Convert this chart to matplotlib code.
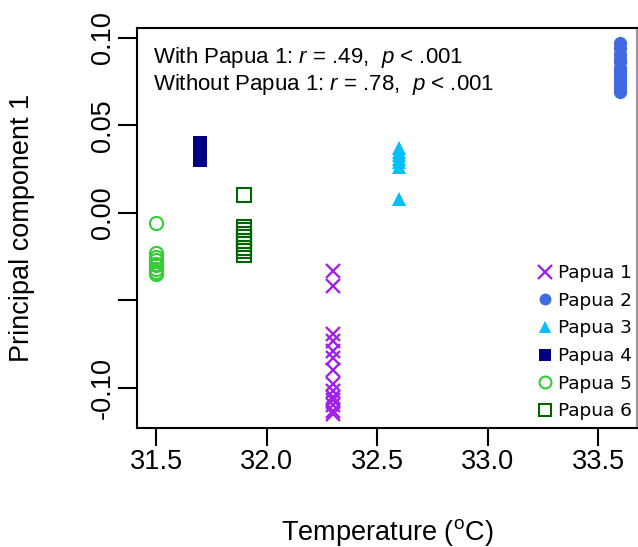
import numpy as np
import matplotlib
matplotlib.use('Agg')
import matplotlib.pyplot as plt
from matplotlib import rcParams

rcParams['font.family'] = 'Liberation Sans'
rcParams['mathtext.fontset'] = 'custom'
rcParams['mathtext.rm'] = 'Liberation Sans'
rcParams['mathtext.it'] = 'Liberation Sans:italic'

# temperature per group and PC1 values
temps = [32.3, 33.6, 32.6, 31.7, 31.5, 31.9]
labels = ['Papua 1', 'Papua 2', 'Papua 3', 'Papua 4', 'Papua 5', 'Papua 6']

pc_papua1 = [-0.033, -0.042, -0.069, -0.073, -0.079, -0.083, -0.090, -0.098,
             -0.102, -0.105, -0.107, -0.110, -0.113, -0.115]
pc_papua2 = [0.097, 0.094, 0.091, 0.088, 0.086, 0.083, 0.081, 0.079, 0.077,
             0.075, 0.073, 0.071, 0.069]
pc_papua3 = [0.037, 0.035, 0.033, 0.031, 0.029, 0.026, 0.008]
pc_papua4 = [0.040, 0.038, 0.036, 0.034, 0.032, 0.030]
pc_papua5 = [-0.006, -0.023, -0.025, -0.027, -0.029, -0.030, -0.032, -0.034, -0.035]
pc_papua6 = [0.010, -0.008, -0.010, -0.012, -0.014, -0.016, -0.018, -0.020,
             -0.022, -0.024]
pcs = [pc_papua1, pc_papua2, pc_papua3, pc_papua4, pc_papua5, pc_papua6]

colors = ['#A020F0', '#4169E1', '#00BFFF', '#000080', '#32CD32', '#006400']
markers = ['x', 'o', '^', 's', 'o', 's']
filled = [True, True, True, True, False, False]
msizes = [10.5, 9.5, 10, 9.5, 9.5, 9.5]

fig = plt.figure(figsize=(6.38, 5.47), dpi=100)
ax = fig.add_axes([137/638, 1-428/547, 500/638, 400/547])

for t, pc, lab, c, m, f, ms in zip(temps, pcs, labels, colors, markers, filled, msizes):
    xs = np.full(len(pc), t)
    if m == 'x':
        ax.plot(xs, pc, ls='none', marker=m, color=c, ms=ms, mew=1.7, label=lab)
    elif f:
        ax.plot(xs, pc, ls='none', marker=m, color=c, ms=ms, mew=0, label=lab)
    else:
        ax.plot(xs, pc, ls='none', marker=m, mfc='none', mec=c, ms=ms, mew=1.5, label=lab)

ax.set_xlim(31.414, 33.676)
ax.set_ylim(-0.1229, 0.1057)
ax.set_xticks([31.5, 32.0, 32.5, 33.0, 33.5])
ax.set_xticklabels(['31.5', '32.0', '32.5', '33.0', '33.5'])
ax.set_yticks([-0.10, -0.05, 0.00, 0.05, 0.10])
ax.set_yticklabels(['-0.10', '', '0.00', '0.05', '0.10'], rotation=90, va='center')

for s in ax.spines.values():
    s.set_linewidth(1.5)
ax.spines['right'].set_color('#999999')
ax.tick_params(axis='both', width=1.5, labelsize=19.5)
ax.tick_params(axis='x', length=13, pad=2)
ax.tick_params(axis='y', length=14, pad=1)

ax.set_xlabel('Temperature ($^{\\mathrm{o}}$C)', fontsize=19.5, labelpad=30)
ax.set_ylabel('Principal component 1', fontsize=19.5, labelpad=40)

ax.text(0.032, 0.958, 'With Papua 1: $r$ = .49,  $p$ < .001', transform=ax.transAxes,
        fontsize=16, va='top', ha='left')
ax.text(0.032, 0.889, 'Without Papua 1: $r$ = .78,  $p$ < .001', transform=ax.transAxes,
        fontsize=16, va='top', ha='left')

leg = ax.legend(loc='lower right', bbox_to_anchor=(1.0, 0.008), frameon=False,
                prop={'family': 'DejaVu Sans', 'size': 13.3}, markerscale=0.9,
                handlelength=0.8, handletextpad=0.35, labelspacing=0.52,
                borderpad=0.0, borderaxespad=0.25)

fig.savefig('out.png', dpi=100)
